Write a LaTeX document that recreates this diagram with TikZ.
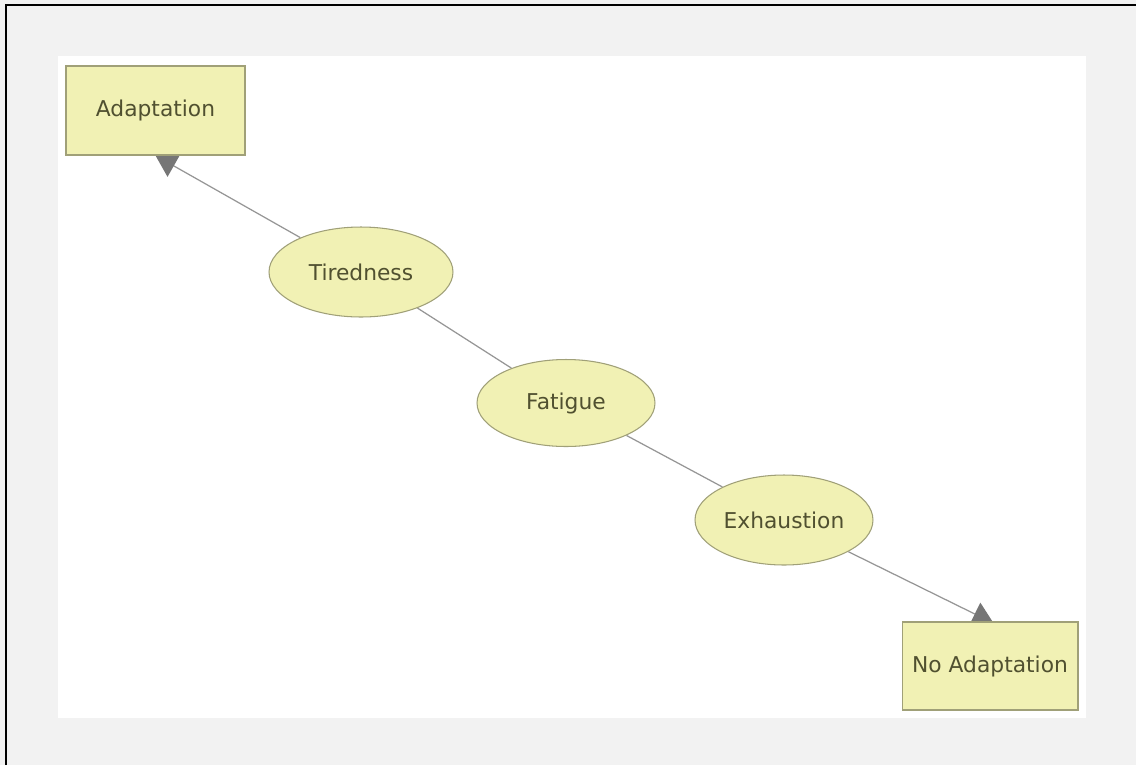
\documentclass[tikz,border=0pt]{standalone}
\usepackage{fontspec}
\setmainfont{DejaVu Sans}
\usetikzlibrary{shapes.geometric,arrows.meta}
\definecolor{pagegray}{RGB}{242,242,242}
\definecolor{boxfill}{RGB}{241,241,180}
\definecolor{boxline}{RGB}{160,160,120}
\definecolor{linkgray}{RGB}{150,150,150}
\definecolor{tipgray}{RGB}{118,118,118}
\definecolor{labeltext}{RGB}{80,80,48}
\pgfdeclarelayer{bg}
\pgfsetlayers{bg,main}
\tikzset{
  stagebox/.style={draw=boxline,fill=boxfill,line width=0.6pt,text=labeltext,inner sep=0pt},
  stageell/.style={stagebox,ellipse},
  link/.style={draw=linkgray,line width=0.7pt},
  linkarrow/.style={link,-{Triangle[length=0.42cm,width=0.5cm,color=tipgray]}}
}
\begin{document}
\begin{tikzpicture}[x=0.02cm,y=-0.02cm,every node/.style={font=\fontsize{12.4}{15}\selectfont}]
\useasboundingbox (0,0) rectangle (1136,765);
\begin{pgfonlayer}{bg}
\fill[pagegray] (0,0) rectangle (1136,765);
\fill[white] (58,56) rectangle (1086,718);
\draw[black,line width=0.7pt] (6,765) -- (6,5) -- (1136,5);
\end{pgfonlayer}
% stages
\node[stagebox,minimum width=3.58cm,minimum height=1.78cm] (adapt) at (155.5,110.5) {Adaptation};
\node[stageell,minimum width=3.68cm,minimum height=1.8cm] (tired) at (361,272) {Tiredness};
\node[stageell,minimum width=3.56cm,minimum height=1.74cm] (fatigue) at (566,403) {Fatigue};
\node[stageell,minimum width=3.56cm,minimum height=1.8cm] (exhaust) at (784,520) {Exhaustion};
\node[stagebox,minimum width=3.52cm,minimum height=1.76cm] (noadapt) at (990,666) {No Adaptation};
% links
\begin{pgfonlayer}{bg}
\draw[linkarrow] (tired) -- (adapt.south);
\draw[link] (tired) -- (fatigue);
\draw[link] (fatigue) -- (exhaust);
\draw[linkarrow,shorten >=-0.08cm] (exhaust) -- (noadapt.north);
\end{pgfonlayer}
\end{tikzpicture}
\end{document}
